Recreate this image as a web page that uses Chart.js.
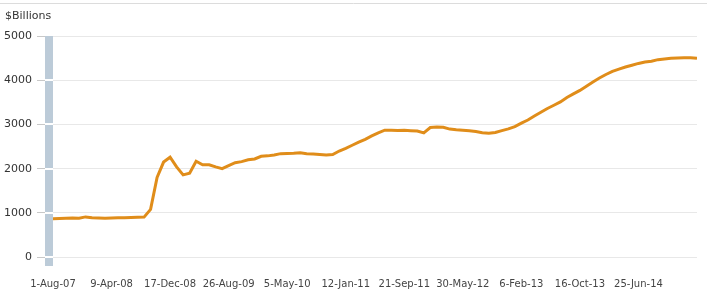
<!DOCTYPE html>
<html>
<head>
<meta charset="utf-8">
<script src="https://cdn.jsdelivr.net/npm/chart.js@4"></script>
<style>
    body { margin: 0; background: #fff; }
    canvas { display: block; }
</style>
</head>
<body>
<canvas id="chart" width="707" height="293"></canvas>
<script>
// weekly Fed balance sheet, sampled every 4 weeks from 1-Aug-07
const weekStep = 4;
const values = [
    870, 875, 880, 885, 880, 910, 890, 885, 880, 885,
    890, 890, 895, 900, 905, 1080, 1800, 2150, 2260, 2040,
    1860, 1900, 2170, 2090, 2090, 2040, 2000, 2070, 2135, 2160,
    2200, 2220, 2280, 2290, 2310, 2340, 2345, 2350, 2360, 2340,
    2330, 2320, 2310, 2320, 2400, 2460, 2530, 2600, 2665, 2740,
    2810, 2870, 2870, 2865, 2870, 2860, 2850, 2810, 2930, 2940,
    2935, 2895, 2880, 2870, 2860, 2840, 2815, 2800, 2820, 2860,
    2900, 2950, 3030, 3100, 3190, 3275, 3360, 3435, 3510, 3610,
    3690, 3770, 3865, 3960, 4050, 4130, 4200, 4250, 4300, 4340,
    4380, 4410, 4430, 4465, 4480, 4495, 4505, 4510, 4510, 4495
];
// a label every 36 weeks
const tickWeeks = 36;
const tickLabels = ['1-Aug-07', '9-Apr-08', '17-Dec-08', '26-Aug-09', '5-May-10', '12-Jan-11',
    '21-Sep-11', '30-May-12', '6-Feb-13', '16-Oct-13', '25-Jun-14'];
const yTicks = [0, 1000, 2000, 3000, 4000, 5000];

const points = values.map((v, i) => ({ x: i * weekStep, y: v }));

const decor = {
    id: 'decor',
    beforeDraw(chart) {
        const ctx = chart.ctx;
        ctx.save();
        ctx.fillStyle = '#fff';
        ctx.fillRect(0, 0, chart.width, chart.height);
        ctx.strokeStyle = '#dcdcdc';
        ctx.lineWidth = 1;
        ctx.beginPath();
        ctx.moveTo(0, 3.5);
        ctx.lineTo(chart.width, 3.5);
        ctx.stroke();
        ctx.fillStyle = '#333';
        ctx.font = '11px "DejaVu Sans"';
        ctx.textBaseline = 'middle';
        ctx.fillText('$Billions', 5, 16);
        ctx.restore();
    },
    beforeDatasetsDraw(chart) {
        // the grey-blue bar along the y axis
        const { ctx, chartArea } = chart;
        const y = chart.scales.y;
        ctx.save();
        ctx.fillStyle = '#bccbd8';
        ctx.fillRect(chartArea.left - 8, chartArea.top, 8, chartArea.bottom - chartArea.top);
        ctx.fillStyle = '#fff';
        for (const t of yTicks) {
            if (t === 5000) continue;
            const py = Math.round(y.getPixelForValue(t));
            ctx.fillRect(chartArea.left - 8, py - 1, 8, 2);
        }
        ctx.restore();
    }
};

new Chart(document.getElementById('chart'), {
    type: 'line',
    data: {
        datasets: [{
            data: points,
            borderColor: '#e08d1a',
            borderWidth: 3,
            pointRadius: 0,
            tension: 0,
            fill: false
        }]
    },
    options: {
        responsive: false,
        animation: false,
        layout: { padding: { top: 36, right: 10, left: 0, bottom: 0 } },
        plugins: {
            legend: { display: false },
            tooltip: { enabled: false }
        },
        scales: {
            x: {
                type: 'linear',
                min: 0,
                max: (values.length - 1) * weekStep,
                grid: { display: false, drawTicks: false },
                border: { display: false },
                afterBuildTicks: (scale) => {
                    scale.ticks = tickLabels.map((_, i) => ({ value: i * tickWeeks }));
                },
                afterFit: (scale) => { scale.height = 27; },
                ticks: {
                    autoSkip: false,
                    maxRotation: 0,
                    padding: 12,
                    color: '#444',
                    font: { family: 'DejaVu Sans', size: 10 },
                    callback: (v) => tickLabels[Math.round(v / tickWeeks)]
                }
            },
            y: {
                min: -200,
                max: 5000,
                afterBuildTicks: (scale) => {
                    scale.ticks = yTicks.map(v => ({ value: v }));
                },
                afterFit: (scale) => { scale.width = 53; },
                grid: {
                    color: '#e8e8e8',
                    tickColor: '#c8c8c8',
                    tickLength: 16,
                    lineWidth: 1
                },
                border: { display: false },
                ticks: {
                    padding: 5,
                    color: '#333',
                    font: { family: 'DejaVu Sans', size: 11 },
                    callback: (v) => String(v)
                }
            }
        }
    },
    plugins: [decor]
});
</script>
</body>
</html>
